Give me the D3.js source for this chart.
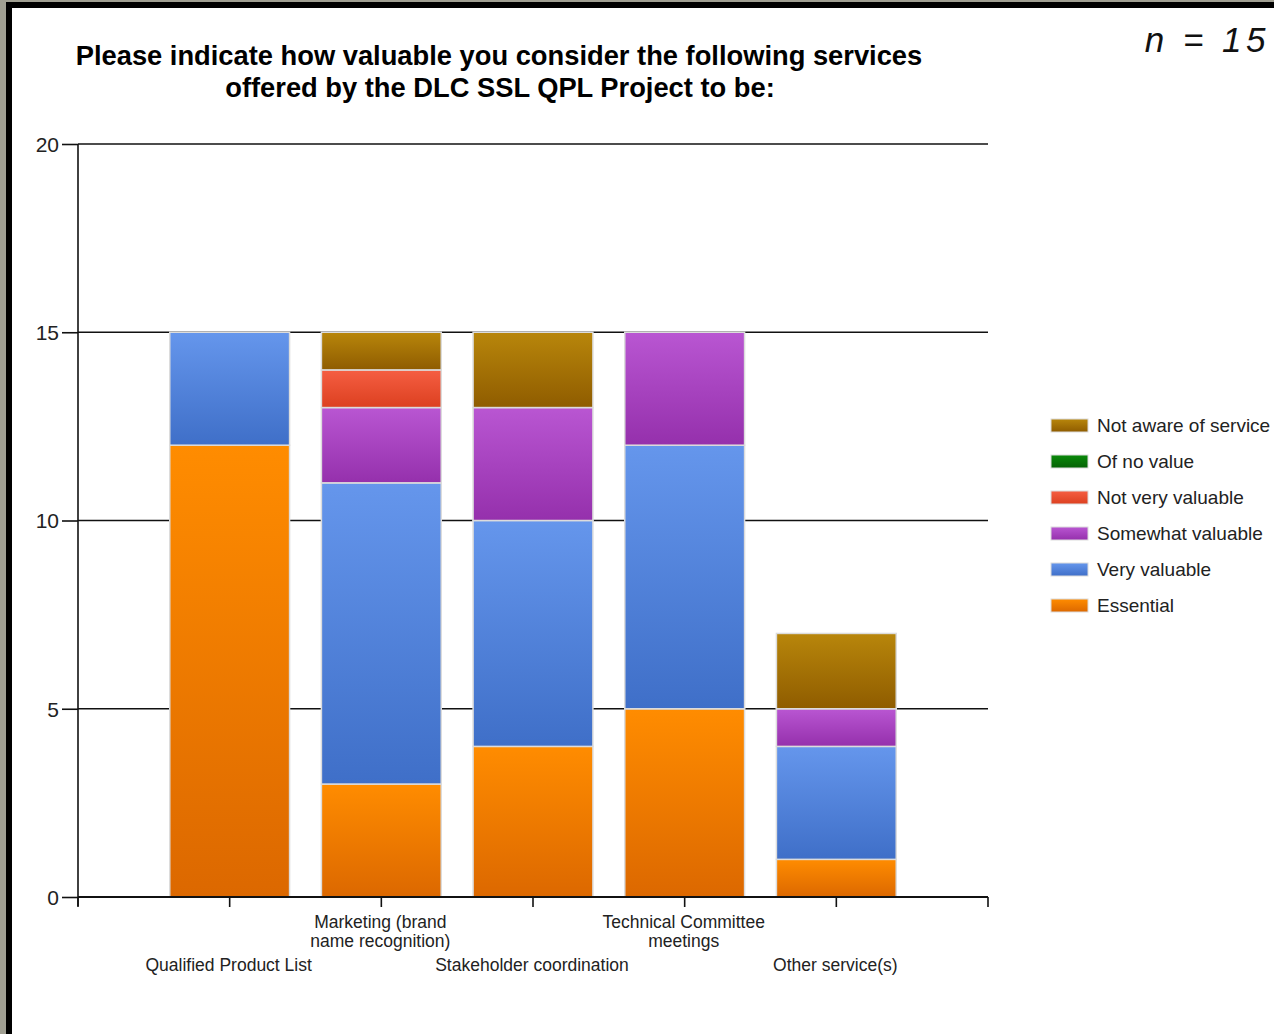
<!DOCTYPE html>
<html>
<head>
<meta charset="utf-8">
<script src="https://cdn.jsdelivr.net/npm/d3@7"></script>
<style>
  html, body { margin: 0; padding: 0; background: #fff; }
  svg { display: block; }
</style>
</head>
<body>
<svg id="chart" width="1274" height="1034"></svg>
<script>
// Survey responses per service (n = 15)
const categories = [
  ["Qualified Product List"],
  ["Marketing (brand", "name recognition)"],
  ["Stakeholder coordination"],
  ["Technical Committee", "meetings"],
  ["Other service(s)"]
];
const seriesNames = ["Essential", "Very valuable", "Somewhat valuable", "Not very valuable", "Of no value", "Not aware of service"];
const essential       = [12, 3, 4, 5, 1];
const veryValuable    = [3, 8, 6, 7, 3];
const somewhatValuable= [0, 2, 3, 3, 1];
const notVeryValuable = [0, 1, 0, 0, 0];
const ofNoValue       = [0, 0, 0, 0, 0];
const notAware        = [0, 1, 2, 0, 2];
const yTicks = [0, 5, 10, 15, 20];

const seriesValues = [essential, veryValuable, somewhatValuable, notVeryValuable, ofNoValue, notAware];
// gradient stops: top (light) to bottom (dark)
const seriesColors = [
  ["#ff8c00", "#dc6800"],
  ["#6596ec", "#3f6fc8"],
  ["#b956d2", "#9530ac"],
  ["#f55e42", "#dc4020"],
  ["#0a8a0a", "#056205"],
  ["#b8860b", "#8f5c00"]
];

const svg = d3.select("#chart");
const W = 1274, H = 1034;

// frame
svg.append("rect").attr("x", 0).attr("y", 0).attr("width", W).attr("height", H).attr("fill", "#a09f92");
svg.append("rect").attr("x", 6).attr("y", 2).attr("width", W - 6).attr("height", H - 2).attr("fill", "#000");
svg.append("rect").attr("x", 12).attr("y", 8).attr("width", W - 12).attr("height", H - 8).attr("fill", "#fff");

const defs = svg.append("defs");
seriesColors.forEach((c, i) => {
  const g = defs.append("linearGradient").attr("id", "grad" + i)
    .attr("x1", 0).attr("y1", 0).attr("x2", 0).attr("y2", 1);
  g.append("stop").attr("offset", "0%").attr("stop-color", c[0]);
  g.append("stop").attr("offset", "100%").attr("stop-color", c[1]);
});

const plotLeft = 78, plotRight = 988, plotTop = 144, plotBottom = 897;
const keys = categories.map(c => c.join(" "));

const x = d3.scalePoint().domain(keys).range([plotLeft, plotRight]).padding(1);
const y = d3.scaleLinear().domain([0, 20]).range([plotBottom, plotTop]);
const barW = x.step() * 0.79;

// title
const title = svg.append("text").attr("text-anchor", "middle")
  .attr("font-family", "Liberation Sans, Arial, sans-serif").attr("font-weight", "bold")
  .attr("font-size", 27.3).attr("fill", "#000");
title.append("tspan").attr("x", 499).attr("y", 65).text("Please indicate how valuable you consider the following services");
title.append("tspan").attr("x", 500).attr("y", 97).text("offered by the DLC SSL QPL Project to be:");

svg.append("text").attr("x", 1270).attr("y", 52).attr("text-anchor", "end")
  .attr("font-family", "Liberation Sans, Arial, sans-serif").attr("font-style", "italic")
  .attr("font-size", 35).attr("letter-spacing", 4.5).attr("fill", "#111").text("n = 15");

// gridlines
svg.append("g").selectAll("line").data(yTicks.filter(t => t > 0)).join("line")
  .attr("x1", plotLeft).attr("x2", plotRight)
  .attr("y1", d => y(d)).attr("y2", d => y(d))
  .attr("stroke", "#111").attr("stroke-width", 1.6);

// y axis
const yAxis = svg.append("g").attr("transform", `translate(${plotLeft},0)`)
  .call(d3.axisLeft(y).tickValues(yTicks).tickSize(16).tickPadding(3));
yAxis.select(".domain").remove();
yAxis.append("line").attr("x1", 0).attr("x2", 0).attr("y1", plotTop).attr("y2", plotBottom + 9)
  .attr("stroke", "#111").attr("stroke-width", 1.6);
yAxis.selectAll(".tick line").attr("stroke", "#111").attr("stroke-width", 1.6);
yAxis.selectAll(".tick text").attr("font-family", "Liberation Sans, Arial, sans-serif")
  .attr("font-size", 21).attr("fill", "#222").attr("dy", "0.35em");

// stacked bars
const stackData = keys.map((k, i) => {
  const o = { key: k };
  seriesNames.forEach((s, j) => { o[s] = seriesValues[j][i]; });
  return o;
});
const stacked = d3.stack().keys(seriesNames)(stackData);

svg.append("g").selectAll("g").data(stacked).join("g")
  .attr("fill", (d, i) => `url(#grad${i})`)
  .selectAll("rect").data(d => d.filter(p => p[1] - p[0] > 0)).join("rect")
  .attr("x", d => x(d.data.key) - barW / 2)
  .attr("width", barW)
  .attr("y", d => y(d[1]))
  .attr("height", d => y(d[0]) - y(d[1]))
  .attr("stroke", "#dcdcdc").attr("stroke-width", 1.5);

// x axis
const xAxisG = svg.append("g");
xAxisG.append("line").attr("x1", plotLeft).attr("x2", plotRight).attr("y1", plotBottom).attr("y2", plotBottom)
  .attr("stroke", "#111").attr("stroke-width", 1.8);
const xTickPos = [plotLeft].concat(keys.map(k => x(k))).concat([plotRight]);
xAxisG.selectAll("line.tk").data(xTickPos).join("line").attr("class", "tk")
  .attr("x1", d => d).attr("x2", d => d).attr("y1", plotBottom).attr("y2", plotBottom + 10)
  .attr("stroke", "#111").attr("stroke-width", 1.6);

const catLabels = xAxisG.selectAll("text.cat").data(categories).join("text").attr("class", "cat")
  .attr("text-anchor", "middle")
  .attr("font-family", "Liberation Sans, Arial, sans-serif").attr("font-size", 17.5).attr("fill", "#222");
catLabels.each(function (lines, i) {
  const t = d3.select(this);
  const cx = x(keys[i]) - 1;
  const y0 = i % 2 === 0 ? 971 : 928;
  lines.forEach((ln, j) => {
    t.append("tspan").attr("x", cx).attr("y", y0 + j * 19).text(ln);
  });
});

// legend
const legendOrder = [5, 4, 3, 2, 1, 0];
const lg = svg.append("g").attr("transform", "translate(1051,419)");
const items = lg.selectAll("g").data(legendOrder).join("g")
  .attr("transform", (d, i) => `translate(0,${i * 36})`);
items.append("rect").attr("width", 37).attr("height", 13)
  .attr("fill", d => `url(#grad${d})`).attr("stroke", "#dcdcdc").attr("stroke-width", 1);
items.append("text").attr("x", 46).attr("y", 13)
  .attr("font-family", "Liberation Sans, Arial, sans-serif").attr("font-size", 19).attr("fill", "#222")
  .text(d => seriesNames[d]);
</script>
</body>
</html>
